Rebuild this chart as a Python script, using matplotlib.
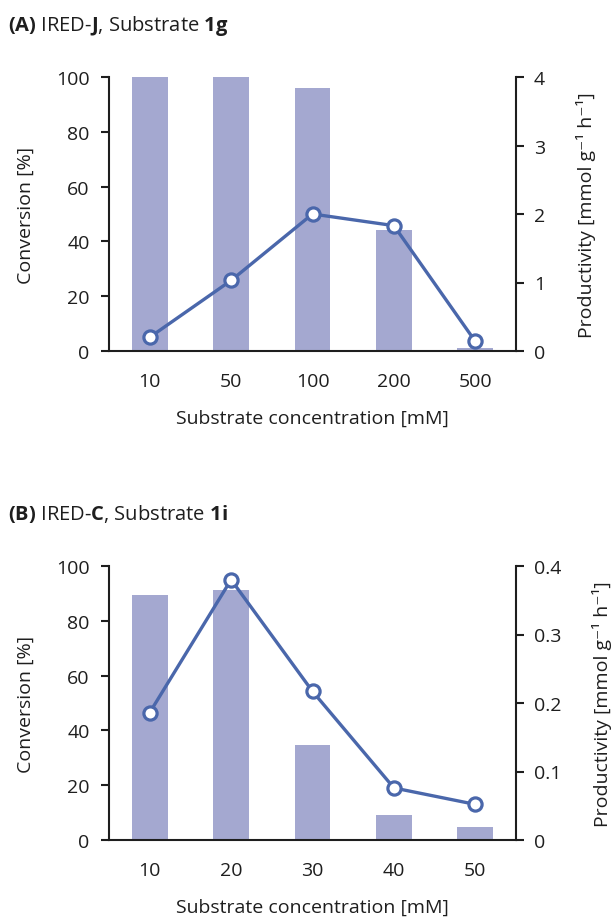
import matplotlib
matplotlib.use("Agg")
import matplotlib.pyplot as plt

plt.rcParams['font.family'] = ['Open Sans', 'DejaVu Sans']
plt.rcParams['mathtext.fontset'] = 'custom'
plt.rcParams['mathtext.rm'] = 'Open Sans'
plt.rcParams['mathtext.bf'] = 'Open Sans:bold'

# panel A: IRED-J, substrate 1g
concA = ["10", "50", "100", "200", "500"]
convA = [100, 100, 96, 44.2, 1.2]
prodA = [0.20, 1.03, 2.0, 1.83, 0.14]

# panel B: IRED-C, substrate 1i
concB = ["10", "20", "30", "40", "50"]
convB = [89.5, 91.1, 34.7, 9.2, 4.9]
prodB = [0.186, 0.380, 0.217, 0.076, 0.052]

barColor = "#a4a8d0"
lineColor = "#4a67ab"
ink = "#1e1e1e"
fs = 14


def panel(fig, rect, cats, conv, prod, pmax, pticks, plabels, title, ty):
    ax = fig.add_axes(rect)
    x = list(range(len(cats)))
    ax.bar(x, conv, width=0.44, color=barColor, zorder=1)
    ax.set_xlim(-0.5, len(cats) - 0.5)
    ax.set_ylim(0, 100)
    ax.set_yticks([0, 20, 40, 60, 80, 100])
    ax.set_xticks(x)
    ax.set_xticklabels(cats)
    ax.tick_params(axis="x", length=0, pad=15, labelsize=fs, colors=ink)
    ax.tick_params(axis="y", length=6, width=1.5, labelsize=fs, colors=ink, pad=8)
    ax.spines["top"].set_visible(False)
    ax.spines["right"].set_visible(False)
    for s in ["left", "bottom"]:
        ax.spines[s].set_linewidth(1.5)
        ax.spines[s].set_color(ink)
    ax.set_ylabel("Conversion [%]", fontsize=fs, color=ink, labelpad=15)
    ax.set_xlabel("Substrate concentration [mM]", fontsize=fs, color=ink, labelpad=14)

    ax2 = ax.twinx()
    ax2.plot(x, prod, color=lineColor, lw=2.4, marker="o", ms=9.5,
             mfc="white", mec=lineColor, mew=2.3, zorder=3, clip_on=False)
    ax2.set_ylim(0, pmax)
    ax2.set_yticks(pticks)
    ax2.set_yticklabels(plabels)
    ax2.tick_params(axis="y", length=6, width=1.5, labelsize=fs, colors=ink, pad=7)
    for s in ["top", "left", "bottom"]:
        ax2.spines[s].set_visible(False)
    ax2.spines["right"].set_linewidth(1.5)
    ax2.spines["right"].set_color(ink)
    ax2.set_ylabel("Productivity [mmol g\u207b\u00b9 h\u207b\u00b9]", fontsize=fs,
                   color=ink, labelpad=22)

    fig.text(8 / 614, ty, title, fontsize=14.5, color=ink, va="center", ha="left")
    return ax


fig = plt.figure(figsize=(6.14, 9.2), dpi=100)

panel(fig, [109 / 614, 1 - 352 / 920, 407 / 614, 274 / 920], concA, convA, prodA, 4,
      [0, 1, 2, 3, 4], ["0", "1", "2", "3", "4"],
      r"$\mathbf{(A)}$ IRED-$\mathbf{J}$, Substrate $\mathbf{1g}$", 1 - 26 / 920)

panel(fig, [109 / 614, 1 - 841 / 920, 407 / 614, 274 / 920], concB, convB, prodB, 0.4,
      [0, 0.1, 0.2, 0.3, 0.4], ["0", "0.1", "0.2", "0.3", "0.4"],
      r"$\mathbf{(B)}$ IRED-$\mathbf{C}$, Substrate $\mathbf{1i}$", 1 - 514 / 920)

fig.savefig("out.png", dpi=100, facecolor="white")
